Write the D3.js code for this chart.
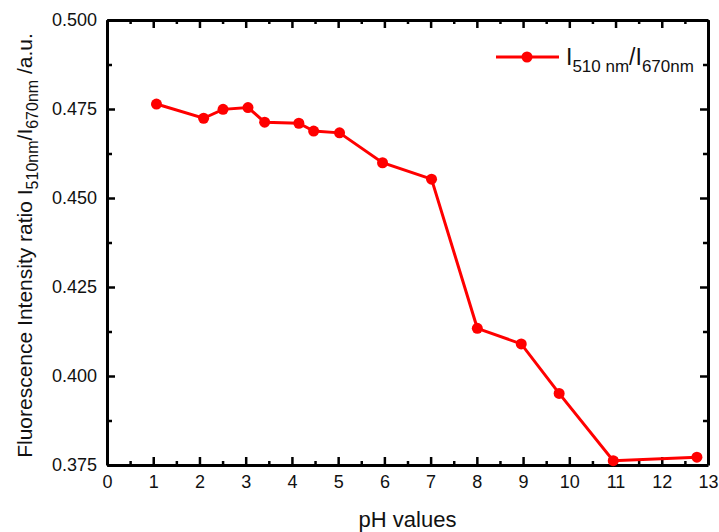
<!DOCTYPE html>
<html>
<head>
<meta charset="utf-8">
<script src="https://cdn.jsdelivr.net/npm/d3@7"></script>
<style>
  body { margin: 0; background: #fff; }
  text { font-family: "Liberation Sans", Arial, sans-serif; fill: #111; }
</style>
</head>
<body>
<div id="chart"></div>
<script>
// pH values and fluorescence ratio
const phValues = [1.07, 2.09, 2.51, 3.05, 3.41, 4.15, 4.47, 5.03, 5.96, 7.02, 8.01, 8.96, 9.78, 10.95, 12.76];
const ratioValues = [0.4764, 0.4724, 0.4749, 0.4754, 0.4713, 0.4710, 0.4688, 0.4683, 0.4599, 0.4553, 0.4134, 0.4090, 0.3951, 0.3762, 0.3772];
const xTicks = [0, 1, 2, 3, 4, 5, 6, 7, 8, 9, 10, 11, 12, 13];
const yTicks = [0.375, 0.400, 0.425, 0.450, 0.475, 0.500];

const data = phValues.map((p, i) => ({ ph: p, ratio: ratioValues[i] }));

const W = 719, H = 532;
const plotLeft = 107, plotRight = 708, plotTop = 20, plotBottom = 465;

const svg = d3.select("#chart").append("svg")
    .attr("width", W)
    .attr("height", H);

const x = d3.scaleLinear().domain([0, 13]).range([plotLeft, plotRight]);
const y = d3.scaleLinear().domain([0.375, 0.5]).range([plotBottom, plotTop]);

// minor tick positions (halfway between majors)
const xMinor = d3.range(0.5, 13, 1);
const yMinor = d3.range(0.3875, 0.5, 0.025);

function styleAxis(g) {
    g.select(".domain").attr("stroke", "#000").attr("stroke-width", 3);
    g.selectAll(".tick line").attr("stroke", "#000").attr("stroke-width", 2.5);
    g.selectAll(".tick text").style("font-size", "18px").attr("fill", "#111");
}

// bottom axis, ticks point inward
svg.append("g")
    .attr("transform", `translate(0,${plotBottom})`)
    .call(d3.axisBottom(x).tickValues(xTicks).tickSizeInner(-8).tickSizeOuter(0).tickPadding(10).tickFormat(d3.format("d")))
    .call(styleAxis);
svg.append("g")
    .attr("transform", `translate(0,${plotBottom})`)
    .call(d3.axisBottom(x).tickValues(xMinor).tickSizeInner(-4).tickSizeOuter(0).tickFormat(""))
    .call(styleAxis)
    .select(".domain").remove();

// top axis
svg.append("g")
    .attr("transform", `translate(0,${plotTop})`)
    .call(d3.axisTop(x).tickValues(xTicks).tickSizeInner(-8).tickSizeOuter(0).tickFormat(""))
    .call(styleAxis);
svg.append("g")
    .attr("transform", `translate(0,${plotTop})`)
    .call(d3.axisTop(x).tickValues(xMinor).tickSizeInner(-4).tickSizeOuter(0).tickFormat(""))
    .call(styleAxis)
    .select(".domain").remove();

// left axis
svg.append("g")
    .attr("transform", `translate(${plotLeft},0)`)
    .call(d3.axisLeft(y).tickValues(yTicks).tickSizeInner(-8).tickSizeOuter(0).tickPadding(10).tickFormat(d3.format(".3f")))
    .call(styleAxis);
svg.append("g")
    .attr("transform", `translate(${plotLeft},0)`)
    .call(d3.axisLeft(y).tickValues(yMinor).tickSizeInner(-5).tickSizeOuter(0).tickFormat(""))
    .call(styleAxis)
    .select(".domain").remove();

// right axis
svg.append("g")
    .attr("transform", `translate(${plotRight},0)`)
    .call(d3.axisRight(y).tickValues(yTicks).tickSizeInner(-8).tickSizeOuter(0).tickFormat(""))
    .call(styleAxis);
svg.append("g")
    .attr("transform", `translate(${plotRight},0)`)
    .call(d3.axisRight(y).tickValues(yMinor).tickSizeInner(-5).tickSizeOuter(0).tickFormat(""))
    .call(styleAxis)
    .select(".domain").remove();

// line + markers
const line = d3.line()
    .x(d => x(d.ph))
    .y(d => y(d.ratio));

svg.append("path")
    .datum(data)
    .attr("fill", "none")
    .attr("stroke", "#ff0000")
    .attr("stroke-width", 3)
    .attr("d", line);

svg.append("g")
    .selectAll("circle")
    .data(data)
    .join("circle")
    .attr("cx", d => x(d.ph))
    .attr("cy", d => y(d.ratio))
    .attr("r", 5.5)
    .attr("fill", "#ff0000");

// legend
const lg = svg.append("g").attr("transform", "translate(496,57)");
lg.append("line")
    .attr("x1", 0).attr("x2", 63)
    .attr("y1", 0).attr("y2", 0)
    .attr("stroke", "#ff0000")
    .attr("stroke-width", 3);
lg.append("circle")
    .attr("cx", 31).attr("cy", 0).attr("r", 5.5)
    .attr("fill", "#ff0000");
const lt = lg.append("text")
    .attr("x", 70).attr("y", 8)
    .style("font-size", "23px");
lt.append("tspan").text("I");
lt.append("tspan").attr("dy", 7).style("font-size", "17px").text("510 nm");
lt.append("tspan").attr("dy", -7).text("/I");
lt.append("tspan").attr("dy", 7).style("font-size", "17px").text("670nm");

// axis titles
svg.append("text")
    .attr("x", (plotLeft + plotRight) / 2)
    .attr("y", 527)
    .attr("text-anchor", "middle")
    .style("font-size", "22px")
    .text("pH values");

const yt = svg.append("text")
    .attr("transform", `translate(32,${(plotBottom + plotTop) / 2 + 3}) rotate(-90)`)
    .attr("text-anchor", "middle")
    .style("font-size", "21px");
yt.append("tspan").text("Fluorescence Intensity ratio I");
yt.append("tspan").attr("dy", 6).style("font-size", "16px").text("510nm");
yt.append("tspan").attr("dy", -6).text("/I");
yt.append("tspan").attr("dy", 6).style("font-size", "16px").text("670nm");
yt.append("tspan").attr("dy", -6).text(" /a.u.");
</script>
</body>
</html>
